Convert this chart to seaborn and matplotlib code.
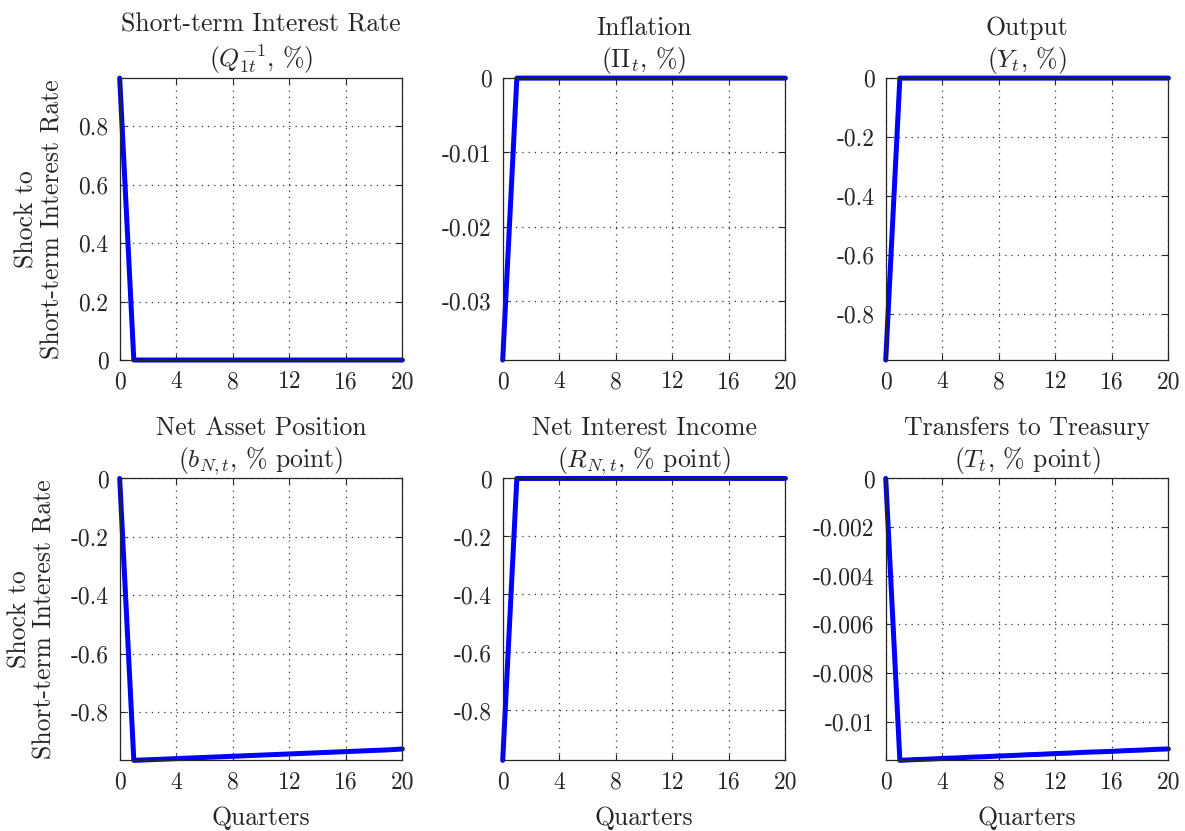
import numpy as np
import matplotlib
matplotlib.use('Agg')
import matplotlib.pyplot as plt
import seaborn as sns

# Impulse responses to a short-term interest rate shock
quarters = list(range(21))

short_rate = [0.964] + [0.0] * 20
inflation = [-0.0379] + [0.0] * 20
output = [-0.956] + [0.0] * 20
net_assets = [0.0, -0.966, -0.964, -0.962, -0.960, -0.958, -0.956, -0.954, -0.952,
              -0.950, -0.948, -0.946, -0.944, -0.942, -0.940, -0.938, -0.936,
              -0.934, -0.932, -0.930, -0.927]
net_income = [-0.972] + [0.0] * 20
transfers = [0.0, -0.01159, -0.01156, -0.01154, -0.01151, -0.01149, -0.01146,
             -0.01144, -0.01141, -0.01139, -0.01136, -0.01134, -0.01131, -0.01129,
             -0.01126, -0.01124, -0.01122, -0.01119, -0.01117, -0.01114, -0.01112]

titles = ['Short-term Interest Rate\n($Q_{1t}^{-1}$, %)',
          'Inflation\n($\\Pi_t$, %)',
          'Output\n($Y_t$, %)',
          'Net Asset Position\n($b_{N,t}$, % point)',
          'Net Interest Income\n($R_{N,t}$, % point)',
          'Transfers to Treasury\n($T_t$, % point)']

yticks = [[0, 0.2, 0.4, 0.6, 0.8],
          [0, -0.01, -0.02, -0.03],
          [0, -0.2, -0.4, -0.6, -0.8],
          [0, -0.2, -0.4, -0.6, -0.8],
          [0, -0.2, -0.4, -0.6, -0.8],
          [0, -0.002, -0.004, -0.006, -0.008, -0.01]]
ytick_labels = [['0', '0.2', '0.4', '0.6', '0.8'],
                ['0', '-0.01', '-0.02', '-0.03'],
                ['0', '-0.2', '-0.4', '-0.6', '-0.8'],
                ['0', '-0.2', '-0.4', '-0.6', '-0.8'],
                ['0', '-0.2', '-0.4', '-0.6', '-0.8'],
                ['0', '-0.002', '-0.004', '-0.006', '-0.008', '-0.01']]
xticks = [0, 4, 8, 12, 16, 20]

series = [short_rate, inflation, output, net_assets, net_income, transfers]

sns.set_style('ticks')
plt.rcParams['font.family'] = ['cmr10', 'DejaVu Serif']
plt.rcParams['mathtext.fontset'] = 'cm'
plt.rcParams['axes.formatter.use_mathtext'] = True
plt.rcParams['font.size'] = 17

fig, axes = plt.subplots(2, 3, figsize=(11.85, 8.31), dpi=100)
fig.subplots_adjust(left=0.101, right=0.986, top=0.906, bottom=0.085,
                    wspace=0.355, hspace=0.42)

for i, ax in enumerate(axes.flat):
    sns.lineplot(x=quarters, y=series[i], ax=ax, color='#0000ff', linewidth=3.6,
                 clip_on=False)
    vals = series[i]
    ax.set_xlim(0, 20)
    ax.set_ylim(min(vals), max(vals))
    ax.set_xticks(xticks)
    ax.set_xticklabels([str(t) for t in xticks])
    ax.set_yticks(yticks[i])
    ax.set_yticklabels(ytick_labels[i])
    ax.grid(True, linestyle=(0, (1, 4)), color='#333333', linewidth=0.9)
    ax.tick_params(direction='in', top=True, right=True, length=4,
                   labelsize=17, colors='#262626', width=0.8, pad=8)
    for s in ax.spines.values():
        s.set_color('#262626')
        s.set_linewidth(0.9)
    ax.set_title(titles[i], fontsize=18.5, pad=8, linespacing=1.25)
    if i % 3 == 0:
        ax.set_ylabel('Shock to\nShort-term Interest Rate', fontsize=18.5,
                      labelpad=10, linespacing=1.1)
    if i >= 3:
        ax.set_xlabel('Quarters', fontsize=18.5, labelpad=9)

plt.savefig('out.png', dpi=100)
